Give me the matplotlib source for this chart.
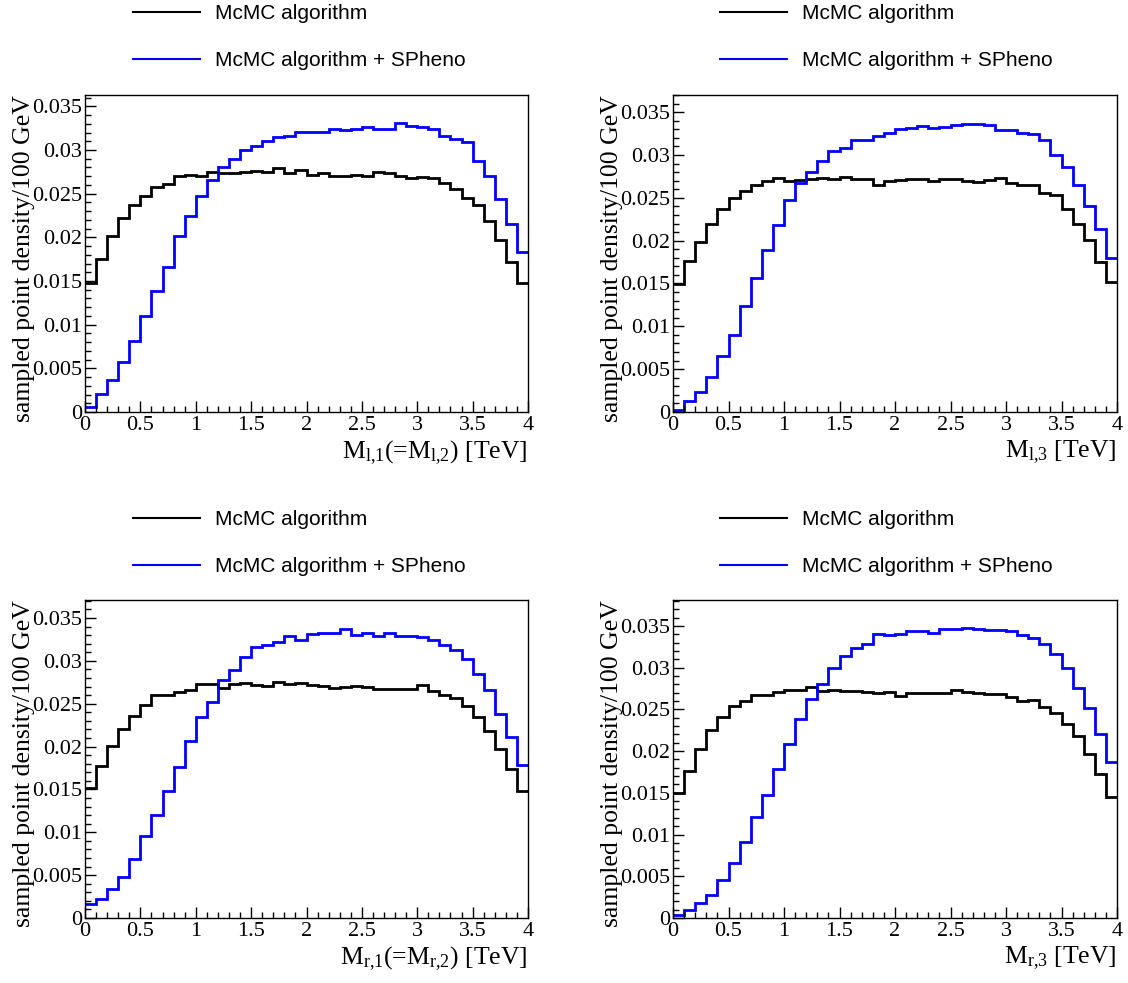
import numpy as np
import matplotlib
matplotlib.use('Agg')
import matplotlib.pyplot as plt
from matplotlib.lines import Line2D
from matplotlib.ticker import MultipleLocator, FormatStrFormatter

plt.rcParams['font.family'] = ['Liberation Serif', 'DejaVu Serif']
plt.rcParams['mathtext.fontset'] = 'custom'
plt.rcParams['mathtext.rm'] = 'Liberation Serif'
plt.rcParams['mathtext.it'] = 'Liberation Serif:italic'

# 40 bins of 100 GeV from 0 to 4 TeV
edges = np.linspace(0, 4, 41)

mcmc_l1 = [0.01481, 0.01748, 0.02011, 0.02218, 0.02366, 0.02477, 0.02576, 0.02611, 0.02706, 0.02710,
           0.02698, 0.02744, 0.02740, 0.02740, 0.02752, 0.02763, 0.02744, 0.02794, 0.02737, 0.02775,
           0.02718, 0.02740, 0.02702, 0.02706, 0.02710, 0.02702, 0.02744, 0.02737, 0.02698, 0.02676,
           0.02691, 0.02683, 0.02626, 0.02553, 0.02447, 0.02366, 0.02187, 0.01966, 0.01718, 0.01481]
spheno_l1 = [0.00057, 0.00210, 0.00363, 0.00569, 0.00813, 0.01095, 0.01382, 0.01660, 0.02011, 0.02248,
             0.02469, 0.02653, 0.02805, 0.02893, 0.03000, 0.03046, 0.03107, 0.03149, 0.03164, 0.03202,
             0.03202, 0.03202, 0.03240, 0.03229, 0.03240, 0.03260, 0.03244, 0.03244, 0.03305, 0.03279,
             0.03260, 0.03240, 0.03156, 0.03130, 0.03088, 0.02874, 0.02698, 0.02443, 0.02153, 0.01836]

mcmc_l3 = [0.01497, 0.01761, 0.01983, 0.02193, 0.02372, 0.02500, 0.02578, 0.02648, 0.02702, 0.02733,
           0.02698, 0.02710, 0.02722, 0.02726, 0.02722, 0.02745, 0.02714, 0.02718, 0.02652, 0.02698,
           0.02710, 0.02714, 0.02718, 0.02698, 0.02722, 0.02722, 0.02702, 0.02687, 0.02710, 0.02737,
           0.02675, 0.02644, 0.02648, 0.02558, 0.02535, 0.02368, 0.02197, 0.02002, 0.01753, 0.01512]
spheno_l3 = [0.00019, 0.00128, 0.00233, 0.00408, 0.00649, 0.00902, 0.01233, 0.01563, 0.01886, 0.02181,
             0.02469, 0.02671, 0.02799, 0.02928, 0.03044, 0.03087, 0.03177, 0.03177, 0.03223, 0.03258,
             0.03305, 0.03320, 0.03336, 0.03309, 0.03332, 0.03348, 0.03367, 0.03359, 0.03351, 0.03297,
             0.03289, 0.03258, 0.03246, 0.03173, 0.03002, 0.02854, 0.02648, 0.02403, 0.02135, 0.01796]

mcmc_r1 = [0.01512, 0.01773, 0.02011, 0.02206, 0.02358, 0.02486, 0.02607, 0.02607, 0.02638, 0.02658,
           0.02732, 0.02732, 0.02681, 0.02732, 0.02740, 0.02720, 0.02709, 0.02755, 0.02732, 0.02740,
           0.02724, 0.02705, 0.02685, 0.02693, 0.02705, 0.02693, 0.02673, 0.02677, 0.02666, 0.02666,
           0.02716, 0.02654, 0.02607, 0.02572, 0.02479, 0.02342, 0.02186, 0.01972, 0.01742, 0.01481]
spheno_r1 = [0.00168, 0.00226, 0.00335, 0.00479, 0.00686, 0.00959, 0.01196, 0.01485, 0.01765, 0.02065,
             0.02346, 0.02525, 0.02775, 0.02896, 0.03044, 0.03157, 0.03184, 0.03215, 0.03293, 0.03242,
             0.03313, 0.03320, 0.03324, 0.03371, 0.03301, 0.03320, 0.03285, 0.03328, 0.03289, 0.03285,
             0.03277, 0.03239, 0.03188, 0.03122, 0.03020, 0.02849, 0.02662, 0.02385, 0.02108, 0.01785]

mcmc_r3 = [0.01501, 0.01762, 0.02026, 0.02251, 0.02404, 0.02536, 0.02600, 0.02669, 0.02677, 0.02713,
           0.02737, 0.02737, 0.02773, 0.02717, 0.02729, 0.02725, 0.02717, 0.02705, 0.02693, 0.02713,
           0.02661, 0.02697, 0.02693, 0.02701, 0.02693, 0.02729, 0.02705, 0.02697, 0.02689, 0.02689,
           0.02648, 0.02596, 0.02616, 0.02524, 0.02452, 0.02319, 0.02175, 0.01962, 0.01730, 0.01453]
spheno_r3 = [0.00032, 0.00100, 0.00177, 0.00277, 0.00457, 0.00654, 0.00915, 0.01216, 0.01469, 0.01790,
             0.02079, 0.02388, 0.02620, 0.02809, 0.02994, 0.03134, 0.03234, 0.03287, 0.03399, 0.03395,
             0.03407, 0.03435, 0.03443, 0.03419, 0.03459, 0.03467, 0.03475, 0.03467, 0.03447, 0.03455,
             0.03439, 0.03387, 0.03355, 0.03283, 0.03162, 0.02994, 0.02761, 0.02516, 0.02207, 0.01870]

xlabels = [r'$\mathrm{M_{l{,}1}}$(=$\mathrm{M_{l{,}2}}$) [TeV]', r'$\mathrm{M_{l{,}3}}$ [TeV]',
           r'$\mathrm{M_{r{,}1}}$(=$\mathrm{M_{r{,}2}}$) [TeV]', r'$\mathrm{M_{r{,}3}}$ [TeV]']
ymaxes = [0.0363, 0.0370, 0.0371, 0.0381]
legend_labels = ['McMC algorithm', 'McMC algorithm + SPheno']
ylabel = 'sampled point density/100 GeV'

panels = [(mcmc_l1, spheno_l1), (mcmc_l3, spheno_l3), (mcmc_r1, spheno_r1), (mcmc_r3, spheno_r3)]

W, H = 1128, 983
fig = plt.figure(figsize=(W / 100, H / 100), dpi=100)

# pixel boxes: left, top, right, bottom
boxes = [(85, 95, 528, 412), (673, 95, 1117, 412), (85, 600, 528, 918), (673, 600, 1117, 918)]
legend_pos = [(133, 4), (720, 4), (133, 510), (720, 510)]

for i in range(4):
    l, t, r, b = boxes[i]
    ax = fig.add_axes([l / W, 1 - b / H, (r - l) / W, (b - t) / H])
    black, blue = panels[i]
    ax.stairs(black, edges, baseline=None, color='black', lw=2.0)
    ax.stairs(blue, edges, baseline=None, color='#0000ff', lw=2.0)
    ax.set_xlim(0, 4)
    ax.set_ylim(0, ymaxes[i])
    ax.xaxis.set_major_locator(MultipleLocator(0.5))
    ax.xaxis.set_minor_locator(MultipleLocator(0.1))
    ax.yaxis.set_major_locator(MultipleLocator(0.005))
    ax.yaxis.set_minor_locator(MultipleLocator(0.001))
    ax.xaxis.set_major_formatter(FormatStrFormatter('%g'))
    ax.yaxis.set_major_formatter(FormatStrFormatter('%g'))
    ax.tick_params(which='both', direction='in', top=False, right=False, labelsize=16)
    ax.tick_params(which='major', length=8, width=1)
    ax.tick_params(which='minor', length=4, width=1)
    ax.tick_params(axis='x', pad=3)
    ax.tick_params(axis='y', pad=2)
    for s in ax.spines.values():
        s.set_linewidth(1)
    ax.set_ylabel(ylabel, fontsize=18.5, loc='top')
    ax.yaxis.set_label_coords(-50 / (r - l), 1.0)
    ax.set_xlabel(xlabels[i], fontsize=18.5, loc='right')
    ax.xaxis.set_label_coords(1.0, -26 / (b - t))

    handles = [Line2D([], [], color='black', lw=1.5), Line2D([], [], color='#0000ff', lw=1.5)]
    lx, ly = legend_pos[i]
    fig.legend(handles, legend_labels, loc='upper left', bbox_to_anchor=(lx / W, 1 - ly / H),
               frameon=False, borderpad=0, borderaxespad=0, handlelength=3.2,
               handletextpad=0.72, labelspacing=1.34,
               prop={'family': 'Liberation Sans', 'size': 15})

fig.savefig('out.png', dpi=100)
